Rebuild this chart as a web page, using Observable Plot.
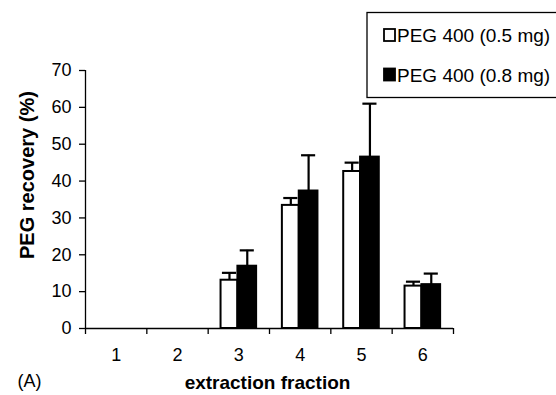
<!DOCTYPE html>
<html>
<head>
<meta charset="utf-8">
<script src="https://cdn.jsdelivr.net/npm/d3@7"></script>
<script src="https://cdn.jsdelivr.net/npm/@observablehq/plot@0.6"></script>
<style>
  html, body { margin: 0; padding: 0; background: #fff; }
  #chart { position: relative; width: 556px; height: 395px; }
</style>
</head>
<body>
<div id="chart"></div>
<script>
// ---- data ----
const fractions = [1, 2, 3, 4, 5, 6];
const seriesNames = ["PEG 400 (0.5 mg)", "PEG 400 (0.8 mg)"];
const recovery05 = [0, 0, 13.1, 33.4, 42.6, 11.5];
const error05    = [0, 0, 2.0, 2.0, 2.4, 1.2];
const recovery08 = [0, 0, 16.9, 37.3, 46.5, 11.9];
const error08    = [0, 0, 4.3, 9.7, 14.5, 3.0];
const yTicks = [0, 10, 20, 30, 40, 50, 60, 70];
const xTitle = "extraction fraction";
const yTitle = "PEG recovery (%)";
const panelLabel = "(A)";

// build table
const rows = [];
fractions.forEach((f, i) => {
  rows.push({fraction: f, series: seriesNames[0], value: recovery05[i], err: error05[i], side: -1});
  rows.push({fraction: f, series: seriesNames[1], value: recovery08[i], err: error08[i], side: 1});
});
const shown = rows.filter(d => d.value > 0);

const half = 0.29;     // bar width in band units
const cap = 0.115;     // half cap width
const x1 = d => d.side < 0 ? d.fraction - half : d.fraction - 0.015;
const x2 = d => d.side < 0 ? d.fraction - 0.015 : d.fraction + half;
const xc = d => (x1(d) + x2(d)) / 2;
const fillOf = d => d.side < 0 ? "white" : "black";

const font = "Liberation Sans, Arial, Helvetica, sans-serif";
const boundaries = d3.range(0.5, 7, 1);

const plot = Plot.plot({
  width: 556,
  height: 395,
  marginLeft: 85,
  marginRight: 103,
  marginTop: 70,
  marginBottom: 67,
  style: {fontFamily: font, fontSize: "18px", color: "black", background: "white"},
  x: {type: "linear", domain: [0.5, 6.5]},
  y: {domain: [0, 70]},
  marks: [
    // y-axis
    Plot.axisY({ticks: yTicks, tickSize: 6, tickPadding: 8, label: null, fontSize: 18, strokeWidth: 1.3}),
    Plot.ruleX([0.5], {y1: 0, y2: 70, stroke: "black", strokeWidth: 1.3}),
    // x-axis boundary ticks
    Plot.axisX({ticks: boundaries, tickFormat: () => "", tickSize: 6, label: null, strokeWidth: 1.3}),
    Plot.axisX({ticks: fractions, tickFormat: d3.format("d"), tickSize: 0, tickPadding: 20, label: null, fontSize: 18}),
    // error bars (upward only)
    Plot.ruleX(shown, {x: xc, y1: "value", y2: d => d.value + d.err, stroke: "black", strokeWidth: 2.2}),
    Plot.ruleY(shown, {y: d => d.value + d.err, x1: d => xc(d) - cap, x2: d => xc(d) + cap, stroke: "black", strokeWidth: 2.2}),
    // bars
    Plot.rectY(shown, {x1, x2, y1: 0, y2: "value", fill: fillOf, stroke: "black", strokeWidth: 2}),
    // baseline
    Plot.ruleY([0], {stroke: "black", strokeWidth: 1.3}),
    // titles
    Plot.text([xTitle], {frameAnchor: "bottom", dy: 60, dx: -2, text: d => d, fontWeight: "bold", fontSize: 19}),
    Plot.text([panelLabel], {x: 0.5, y: 0, dx: -68, dy: 53, text: d => d, fontSize: 18, textAnchor: "start"}),
    Plot.text([yTitle], {x: 0.5, y: 40, dx: -58, dy: -6, rotate: -90, text: d => d, fontWeight: "bold", fontSize: 20})
  ]
});

document.getElementById("chart").appendChild(plot);

// legend box drawn in the svg (overlapping the top right of the plot)
const svg = d3.select(plot);
const g = svg.append("g").attr("font-family", font).attr("font-size", 19).attr("text-anchor", "start");
g.append("rect").attr("x", 367).attr("y", 12.5).attr("width", 200).attr("height", 85)
  .attr("fill", "white").attr("stroke", "black").attr("stroke-width", 1.3);
seriesNames.forEach((name, i) => {
  const cy = 35 + i * 39.5;
  g.append("rect").attr("x", 384).attr("y", cy - 6).attr("width", 11).attr("height", 12)
    .attr("fill", i === 0 ? "white" : "black").attr("stroke", "black").attr("stroke-width", 1.8);
  g.append("text").attr("x", 397).attr("y", cy + 7).attr("text-anchor", "start").text(name);
});
</script>
</body>
</html>
